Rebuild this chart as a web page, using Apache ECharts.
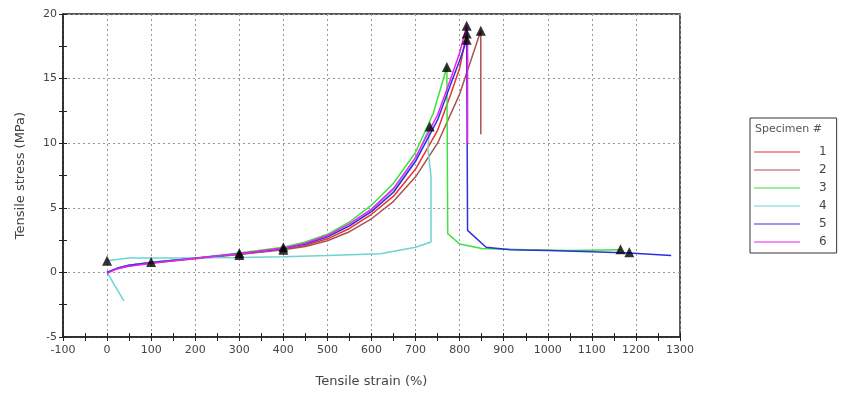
<!DOCTYPE html>
<html>
<head>
<meta charset="utf-8">
<script src="https://cdn.jsdelivr.net/npm/echarts@6/dist/echarts.min.js"></script>
<style>
  html, body { margin: 0; padding: 0; background: #fff; }
  #chart { width: 848px; height: 394px; }
</style>
</head>
<body>
<div id="chart"></div>
<script>
// strain (%) / stress (MPa) pairs
const specimen1 = [[0,0],[25,0.35],[50,0.55],[100,0.75],[200,1.1],[300,1.42],[400,1.8],[450,2.1],[500,2.6],[550,3.4],[600,4.5],[650,5.9],[700,8.0],[750,11.0],[780,13.8],[800,15.8],[816,18.5],[818,16.3]]
const specimen2 = [[0,0],[25,0.3],[50,0.5],[100,0.72],[200,1.05],[300,1.38],[400,1.75],[450,2.0],[500,2.45],[550,3.15],[600,4.15],[650,5.5],[700,7.4],[750,10.0],[800,13.8],[848,18.7],[848,10.7]]
const specimen3 = [[0,0],[25,0.35],[50,0.55],[100,0.78],[200,1.12],[300,1.5],[400,1.95],[450,2.35],[500,2.95],[550,3.9],[600,5.2],[650,6.9],[700,9.3],[740,12.3],[771,15.9],[773,3.0],[800,2.2],[850,1.85],[950,1.75],[1050,1.7],[1165,1.75]]
const specimen4 = [[38,-2.2],[0,0],[25,0.35],[50,0.55],[100,0.76],[200,1.1],[300,1.45],[400,1.85],[450,2.2],[500,2.75],[550,3.6],[600,4.8],[650,6.4],[700,8.7],[732,11.3],[728,9.6],[735,7.4],[735,2.35],[700,1.95],[620,1.45],[500,1.3],[400,1.22],[300,1.15],[150,1.12],[50,1.12],[0,0.9]]
const specimen5 = [[0,0],[25,0.35],[50,0.55],[100,0.77],[200,1.1],[300,1.45],[400,1.85],[450,2.2],[500,2.75],[550,3.6],[600,4.7],[650,6.2],[700,8.6],[750,11.8],[780,14.6],[800,16.4],[816,18.0],[818,3.25],[860,1.95],[915,1.76],[1000,1.7],[1100,1.6],[1185,1.5],[1280,1.3]]
const specimen6 = [[0,-0.1],[20,0.25],[45,0.45],[97,0.68],[200,1.1],[302,1.45],[400,1.88],[450,2.25],[500,2.85],[550,3.75],[600,4.9],[650,6.5],[700,8.9],[750,12.2],[780,15.0],[800,17.0],[816,19.1],[818,17.8],[818,10.0]]
const breakPoints = [[0,0.9],[100,0.8],[300,1.5],[300,1.35],[400,1.95],[400,1.75],[732,11.3],[771,15.9],[816,19.1],[816,18.5],[816,18.0],[848,18.7],[1165,1.8],[1185,1.55]]

const names = ['1', '2', '3', '4', '5', '6']
const colors = ['#e8322f', '#a9524e', '#3fe03f', '#6fd3d3', '#2f2fe0', '#f01ff0']
const curves = [specimen1, specimen2, specimen3, specimen4, specimen5, specimen6]

const FONT = 'DejaVu Sans'
const labelColor = '#444'

const chart = echarts.init(document.getElementById('chart'))

const gridLine = { show: true, lineStyle: { color: '#999', type: [2, 3], width: 1 } }
const tickStyle = { color: '#222', width: 1 }

chart.setOption({
  animation: false,
  backgroundColor: '#fff',
  textStyle: { fontFamily: FONT },
  grid: { left: 63, right: 168, top: 14, bottom: 57, show: true, borderColor: '#222', borderWidth: 1.5 },
  legend: {
    data: names,
    orient: 'vertical',
    left: 750,
    top: 118,
    padding: [28, 10, 5, 4],
    itemWidth: 46,
    itemHeight: 10,
    itemGap: 6,
    borderColor: '#333',
    borderWidth: 1,
    icon: 'path://M0,4.5L46,4.5L46,5.5L0,5.5Z',
    textStyle: { color: labelColor, fontSize: 12, fontFamily: FONT, padding: [0, 0, 0, 14] }
  },
  graphic: [{
    type: 'text',
    left: 755,
    top: 124,
    style: { text: 'Specimen #', fill: '#555', font: '11px ' + FONT }
  }],
  xAxis: [{
    type: 'value',
    min: -100,
    max: 1300,
    interval: 100,
    name: 'Tensile strain (%)',
    nameLocation: 'middle',
    nameGap: 38,
    nameTextStyle: { color: labelColor, fontSize: 13, fontFamily: FONT },
    axisLine: { onZero: false, lineStyle: { color: '#222', width: 1.5 } },
    axisTick: { length: 4, lineStyle: tickStyle },
    minorTick: { show: true, splitNumber: 2, length: 4, lineStyle: tickStyle },
    axisLabel: { color: labelColor, fontSize: 11, margin: 8, formatter: v => String(v) },
    splitLine: gridLine
  }, {
    type: 'value',
    position: 'bottom',
    min: -100,
    max: 1300,
    interval: 100,
    axisLine: { show: false, onZero: false },
    axisTick: { inside: true, length: 4, lineStyle: tickStyle },
    minorTick: { show: true, splitNumber: 2, length: 4, lineStyle: tickStyle },
    axisLabel: { show: false },
    splitLine: { show: false }
  }],
  yAxis: [{
    type: 'value',
    min: -5,
    max: 20,
    interval: 5,
    name: 'Tensile stress (MPa)',
    nameLocation: 'middle',
    nameGap: 36,
    nameTextStyle: { color: labelColor, fontSize: 13, fontFamily: FONT },
    axisLine: { show: true, onZero: false, lineStyle: { color: '#222', width: 1.5 } },
    axisTick: { show: true, length: 4, lineStyle: tickStyle },
    minorTick: { show: true, splitNumber: 2, length: 4, lineStyle: tickStyle },
    axisLabel: { color: labelColor, fontSize: 11, margin: 6 },
    splitLine: gridLine
  }, {
    type: 'value',
    position: 'left',
    min: -5,
    max: 20,
    interval: 5,
    axisLine: { show: false, onZero: false },
    axisTick: { show: true, inside: true, length: 4, lineStyle: tickStyle },
    minorTick: { show: true, splitNumber: 2, length: 4, lineStyle: tickStyle },
    axisLabel: { show: false },
    splitLine: { show: false }
  }],
  series: curves.map((data, i) => ({
    name: names[i],
    type: 'line',
    data: data,
    showSymbol: false,
    symbol: 'none',
    color: colors[i],
    lineStyle: { width: 1.5, color: colors[i] }
  })).concat([{
    name: 'break',
    type: 'scatter',
    data: breakPoints,
    symbol: 'triangle',
    symbolSize: 10,
    itemStyle: { color: '#000' },
    z: 5
  }])
})
</script>
</body>
</html>
